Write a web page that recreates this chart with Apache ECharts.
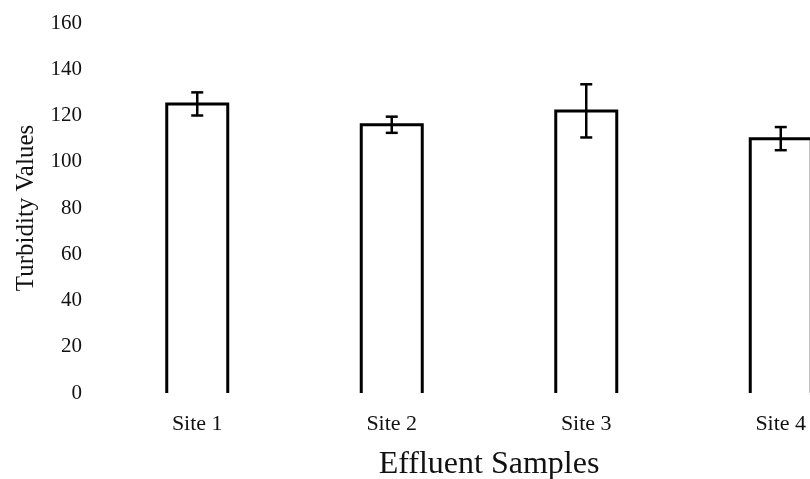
<!DOCTYPE html>
<html>
<head>
<meta charset="utf-8">
<script src="https://cdn.jsdelivr.net/npm/echarts@6/dist/echarts.min.js"></script>
<style>
  html, body { margin: 0; padding: 0; background: #fff; }
  #chart { width: 810px; height: 479px; }
</style>
</head>
<body>
<div id="chart"></div>
<script>
// Turbidity measured at each effluent sampling site, with error margins
const sites = ['Site 1', 'Site 2', 'Site 3', 'Site 4'];
const turbidity = [125, 116, 122, 110];
const turbidityError = [5, 3.5, 11.5, 5];
const yTicks = { min: 0, max: 160, interval: 20 };

const serif = '"Liberation Serif", "DejaVu Serif", serif';

const barData = sites.map((s, i) => [i, turbidity[i]]);
const errorData = sites.map((s, i) => [i, turbidity[i] - turbidityError[i], turbidity[i] + turbidityError[i]]);

const BAR_W = 61;

const chart = echarts.init(document.getElementById('chart'), null, { renderer: 'canvas' });
chart.setOption({
  animation: false,
  backgroundColor: '#ffffff',
  grid: { left: 100, top: 23, right: -68, bottom: 86, outerBoundsMode: 'none', containLabel: false },
  xAxis: {
    type: 'category',
    data: sites,
    axisLine: { show: false },
    axisTick: { show: false },
    axisLabel: { margin: 20, fontFamily: serif, fontSize: 22, color: '#111' },
    name: 'Effluent Samples',
    nameLocation: 'middle',
    nameGap: 56,
    nameTextStyle: { fontFamily: serif, fontSize: 32, color: '#111' }
  },
  yAxis: {
    type: 'value',
    min: yTicks.min,
    max: yTicks.max,
    interval: yTicks.interval,
    axisLine: { show: false },
    axisTick: { show: false },
    splitLine: { show: false },
    axisLabel: { margin: 18, fontFamily: serif, fontSize: 21, color: '#111' },
    name: 'Turbidity Values',
    nameLocation: 'middle',
    nameGap: 61,
    nameTextStyle: { fontFamily: serif, fontSize: 25, color: '#111' }
  },
  series: [
    {
      // open-bottomed outline bars: left side, top, right side
      type: 'custom',
      data: barData,
      renderItem: function (params, api) {
        const x = api.value(0);
        const top = api.coord([x, api.value(1)]);
        const base = api.coord([x, 0]);
        const h = BAR_W / 2;
        return {
          type: 'polyline',
          shape: { points: [[top[0] - h, base[1]], [top[0] - h, top[1]], [top[0] + h, top[1]], [top[0] + h, base[1]]] },
          style: { stroke: '#000', lineWidth: 3, fill: null, lineJoin: 'miter' }
        };
      }
    },
    {
      type: 'custom',
      data: errorData,
      z: 10,
      renderItem: function (params, api) {
        const x = api.value(0);
        const lo = api.coord([x, api.value(1)]);
        const hi = api.coord([x, api.value(2)]);
        const half = 6;
        const style = { stroke: '#000', lineWidth: 2.5 };
        return {
          type: 'group',
          children: [
            { type: 'line', shape: { x1: hi[0], y1: hi[1], x2: lo[0], y2: lo[1] }, style: style },
            { type: 'line', shape: { x1: hi[0] - half, y1: hi[1], x2: hi[0] + half, y2: hi[1] }, style: style },
            { type: 'line', shape: { x1: lo[0] - half, y1: lo[1], x2: lo[0] + half, y2: lo[1] }, style: style }
          ]
        };
      }
    }
  ]
});
</script>
</body>
</html>
